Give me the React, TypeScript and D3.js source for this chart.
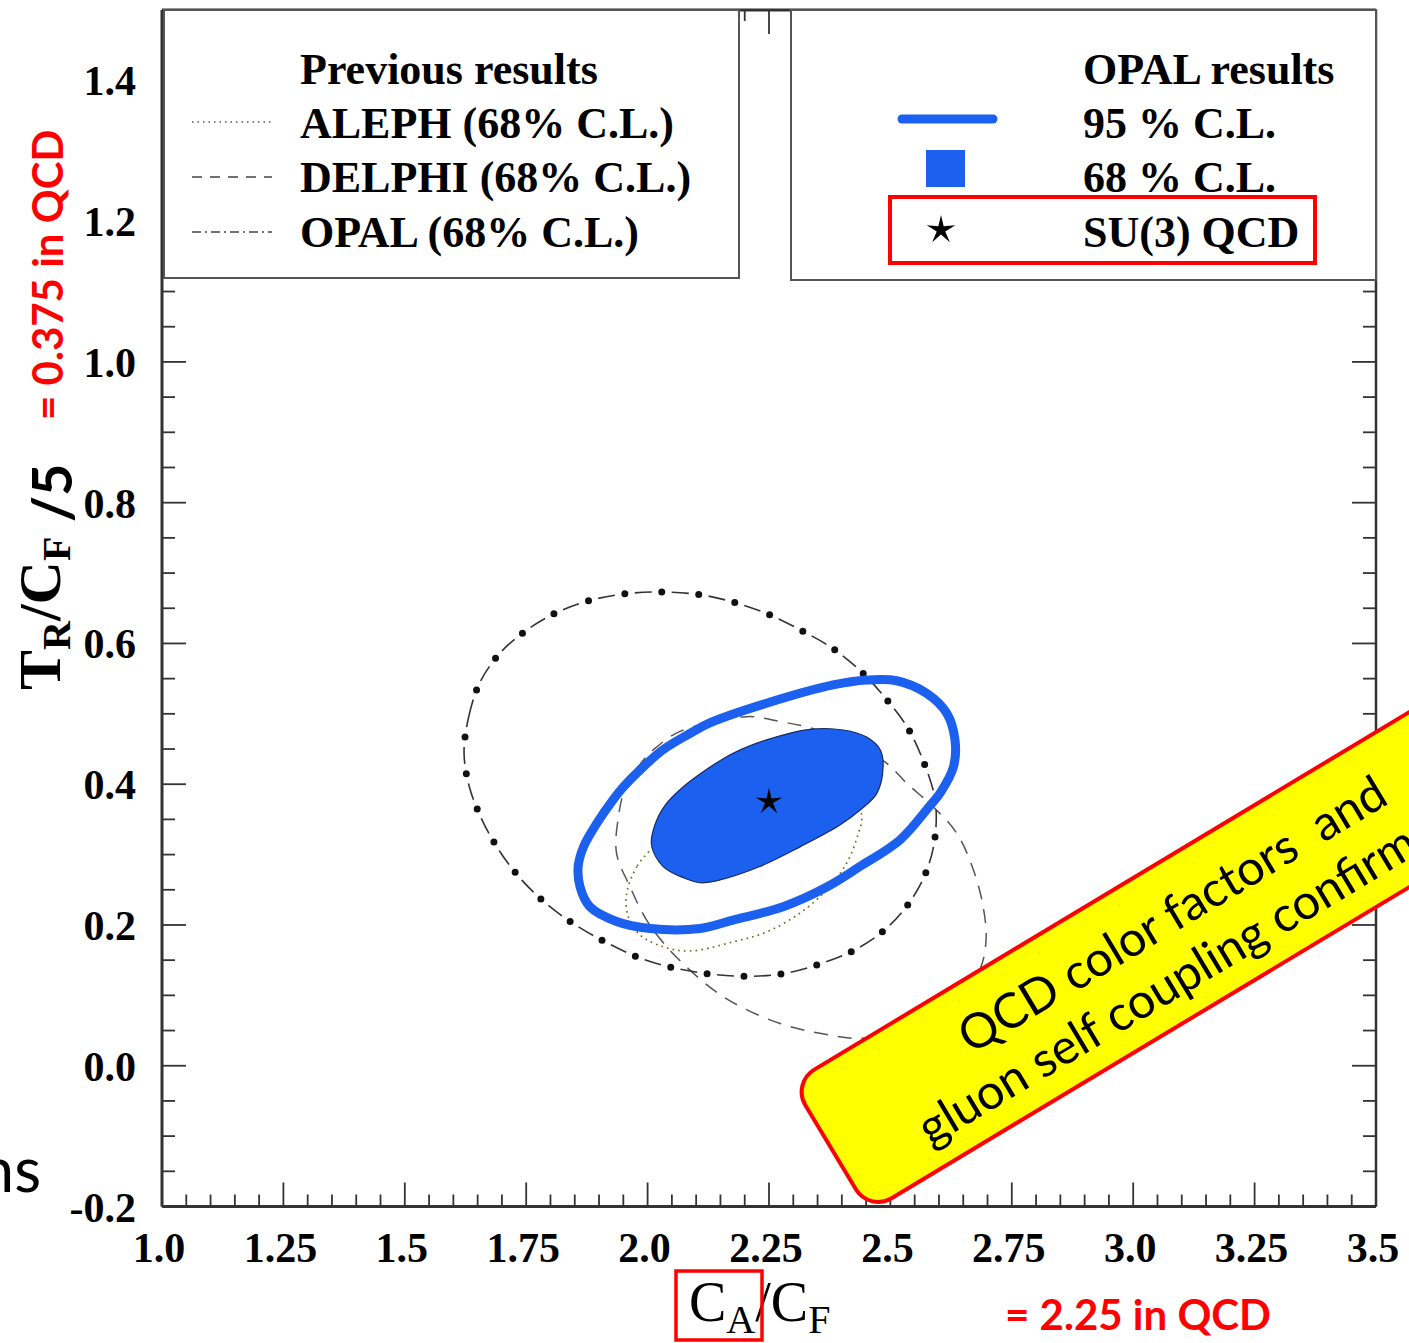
import React from "react";
import * as d3 from "d3";

type Pt = [number, number];

const xTickValues = [1.0, 1.25, 1.5, 1.75, 2.0, 2.25, 2.5, 2.75, 3.0, 3.25, 3.5];
const xTickLabels = ["1.0", "1.25", "1.5", "1.75", "2.0", "2.25", "2.5", "2.75", "3.0", "3.25", "3.5"];
const yTickValues = [-0.2, 0.0, 0.2, 0.4, 0.6, 0.8, 1.0, 1.2, 1.4];
const yTickLabels = ["-0.2", "0.0", "0.2", "0.4", "0.6", "0.8", "1.0", "1.2", "1.4"];

const su3Point: Pt = [2.25, 0.375];

// previous OPAL 68% C.L. (dash-dot)
const opalPrev68: Pt[] = [
  [1.622, 0.445], [1.632, 0.497], [1.655, 0.545], [1.697, 0.587], [1.753, 0.62], [1.816, 0.645],
  [1.886, 0.662], [1.96, 0.671], [2.034, 0.673], [2.111, 0.669], [2.18, 0.658], [2.25, 0.641],
  [2.318, 0.618], [2.381, 0.593], [2.44, 0.56], [2.489, 0.523], [2.534, 0.482], [2.566, 0.436],
  [2.592, 0.378], [2.591, 0.32], [2.571, 0.271], [2.534, 0.227], [2.483, 0.19], [2.422, 0.163],
  [2.352, 0.144], [2.281, 0.131], [2.206, 0.127], [2.133, 0.13], [2.061, 0.138], [1.988, 0.152],
  [1.921, 0.173], [1.856, 0.198], [1.797, 0.227], [1.742, 0.263], [1.697, 0.303], [1.66, 0.348],
  [1.633, 0.396],
];

// DELPHI 68% C.L. (dashed)
const delphi68: Pt[] = [
  [1.94, 0.354], [1.953, 0.392], [1.991, 0.434], [2.019, 0.453], [2.067, 0.475], [2.204, 0.496],
  [2.273, 0.489], [2.341, 0.479], [2.427, 0.456], [2.492, 0.43], [2.534, 0.401], [2.588, 0.368],
  [2.637, 0.33], [2.671, 0.278], [2.691, 0.226], [2.697, 0.179], [2.684, 0.136], [2.633, 0.086],
  [2.54, 0.051], [2.437, 0.039], [2.355, 0.046], [2.273, 0.06], [2.197, 0.082], [2.135, 0.108],
  [2.046, 0.164], [1.998, 0.207], [1.964, 0.254], [1.936, 0.302],
];

// ALEPH 68% C.L. (dotted)
const aleph68: Pt[] = [
  [2.005, 0.306], [1.978, 0.283], [1.957, 0.245], [1.96, 0.212], [1.984, 0.186], [2.032, 0.169],
  [2.087, 0.163], [2.176, 0.176], [2.245, 0.19], [2.314, 0.217], [2.369, 0.25], [2.41, 0.288],
  [2.434, 0.33], [2.441, 0.354], [2.417, 0.392], [2.314, 0.413], [2.17, 0.392], [2.067, 0.349],
];

// OPAL 95% C.L. (thick blue contour)
const opal95: Pt[] = [
  [1.857, 0.283], [1.868, 0.311], [1.895, 0.344], [1.929, 0.378], [1.95, 0.396], [1.984, 0.42],
  [2.032, 0.449], [2.087, 0.472], [2.128, 0.487], [2.245, 0.515], [2.382, 0.541], [2.451, 0.548],
  [2.513, 0.547], [2.575, 0.529], [2.616, 0.501], [2.633, 0.463], [2.63, 0.425], [2.602, 0.387],
  [2.582, 0.37], [2.52, 0.321], [2.437, 0.283], [2.369, 0.254], [2.279, 0.226], [2.176, 0.207],
  [2.108, 0.195], [2.005, 0.195], [1.936, 0.205], [1.881, 0.226], [1.861, 0.254],
];

// OPAL 68% C.L. (filled)
const opal68: Pt[] = [
  [2.008, 0.314], [2.015, 0.342], [2.036, 0.37], [2.073, 0.396], [2.128, 0.424], [2.176, 0.444],
  [2.245, 0.463], [2.334, 0.478], [2.403, 0.477], [2.451, 0.467], [2.479, 0.449], [2.485, 0.425],
  [2.472, 0.387], [2.437, 0.363], [2.396, 0.342], [2.314, 0.311], [2.231, 0.283], [2.149, 0.264],
  [2.108, 0.26], [2.074, 0.267], [2.032, 0.283],
];

const prevLegendTitle = "Previous results";
const prevLegendLabels = ["ALEPH (68% C.L.)", "DELPHI (68% C.L.)", "OPAL (68% C.L.)"];
const opalLegendTitle = "OPAL results";
const opalLegendLabels = ["95 % C.L.", "68 % C.L.", "SU(3) QCD"];
const bannerLines = ["QCD color factors\u00a0\u00a0and", "gluon self coupling confirmed"];
const yNote = "= 0.375 in QCD";
const xNote = "= 2.25 in QCD";
const stray = "ns";

const SERIF = "'Liberation Serif', 'Times New Roman', serif";
const SANS = "Lato, 'Open Sans', sans-serif";
const BLUE = "#1c60f0";

function starPath(cx: number, cy: number, R: number, r: number) {
  const pts: string[] = [];
  for (let i = 0; i < 10; i++) {
    const a = -Math.PI / 2 + (i * Math.PI) / 5;
    const rad = i % 2 === 0 ? R : r;
    pts.push(`${cx + rad * Math.cos(a)},${cy + rad * Math.sin(a)}`);
  }
  return "M" + pts.join("L") + "Z";
}

export default function App() {
  const W = 1409;
  const H = 1343;
  const x = d3.scaleLinear().domain([1, 3.5]).range([162, 1376]);
  const y = d3.scaleLinear().domain([-0.2, 1.5]).range([1206.5, 10]);
  const closed = d3
    .line<Pt>()
    .x((d) => x(d[0]))
    .y((d) => y(d[1]))
    .curve(d3.curveCatmullRomClosed.alpha(0.5));

  const x0 = x(1), x1 = x(3.5), yb = y(-0.2), yt = y(1.5);
  const xMinor = d3.range(0, 51).map((i) => ({ v: 1 + i * 0.05, major: i % 5 === 0 }));
  const yMinor = d3.range(0, 35).map((i) => ({ v: -0.2 + i * 0.05, major: i % 4 === 0 }));

  const prevRowY = [138, 192, 247];
  const sampleY = [122, 177, 232];

  return (
    <svg
      width={W}
      height={H}
      viewBox={`0 0 ${W} ${H}`}
      style={{ position: "absolute", left: 0, top: 0, background: "#fff" }}
    >
      <rect x={0} y={0} width={W} height={H} fill="#fff" />

      {/* contours */}
      <path d={closed(delphi68) || ""} fill="none" stroke="#555" strokeWidth={1.5} strokeDasharray="14 10" />
      <path d={closed(aleph68) || ""} fill="none" stroke="#6e6a1e" strokeWidth={1.7} strokeDasharray="1.6 4.2" />
      <path d={closed(opalPrev68) || ""} fill="none" stroke="#333" strokeWidth={1.6} strokeDasharray="17 20" />
      <path
        d={closed(opalPrev68) || ""}
        fill="none"
        stroke="#111"
        strokeWidth={7}
        strokeLinecap="round"
        strokeDasharray="0 37"
        strokeDashoffset={-27}
      />
      <path d={closed(opal68) || ""} fill={BLUE} stroke="#1a2a60" strokeWidth={1.2} />
      <path d={closed(opal95) || ""} fill="none" stroke={BLUE} strokeWidth={9} strokeLinejoin="round" />
      <path d={starPath(x(su3Point[0]), y(su3Point[1]), 14, 4.2)} fill="#000" />

      {/* axes */}
      <g stroke="#333">
        <line x1={x0} y1={yb} x2={x1} y2={yb} strokeWidth={3} />
        <line x1={x0} y1={yt} x2={x0} y2={yb} strokeWidth={3} />
        <line x1={x1} y1={yt} x2={x1} y2={yb} strokeWidth={2.5} />
        <line x1={x0} y1={yt} x2={x1} y2={yt} strokeWidth={3} />
        {xMinor.map((t, i) => (
          <g key={"xt" + i} strokeWidth={1.8}>
            <line x1={x(t.v)} x2={x(t.v)} y1={yb} y2={yb - (t.major ? 24 : 12)} />
            <line x1={x(t.v)} x2={x(t.v)} y1={yt} y2={yt + (t.major ? 24 : 11)} />
          </g>
        ))}
        {yMinor.map((t, i) => (
          <g key={"yt" + i} strokeWidth={1.8}>
            <line x1={x0} x2={x0 + (t.major ? 24 : 13)} y1={y(t.v)} y2={y(t.v)} />
            <line x1={x1} x2={x1 - (t.major ? 24 : 13)} y1={y(t.v)} y2={y(t.v)} />
          </g>
        ))}
      </g>

      {/* tick labels */}
      <g fontFamily={SERIF} fontWeight="bold" fontSize={42} fill="#000">
        {xTickValues.map((v, i) => (
          <text key={"xl" + i} x={x(v) - 3} y={1262} textAnchor="middle">
            {xTickLabels[i]}
          </text>
        ))}
        {yTickValues.map((v, i) => (
          <text key={"yl" + i} x={136} y={y(v) + 15} textAnchor="end">
            {yTickLabels[i]}
          </text>
        ))}
      </g>

      {/* legend boxes */}
      <rect x={164} y={10} width={575} height={268} fill="#fff" stroke="#555" strokeWidth={2} />
      <rect x={791} y={10} width={585} height={270} fill="#fff" stroke="#555" strokeWidth={2} />

      <g fontFamily={SERIF} fontWeight="bold" fontSize={44} fill="#000">
        <text x={300} y={84}>{prevLegendTitle}</text>
        {prevLegendLabels.map((l, i) => (
          <text key={"pl" + i} x={300} y={prevRowY[i]}>{l}</text>
        ))}
        <text x={1083} y={84}>{opalLegendTitle}</text>
        {opalLegendLabels.map((l, i) => (
          <text key={"ol" + i} x={1083} y={prevRowY[i]}>{l}</text>
        ))}
      </g>
      <line x1={192} x2={272} y1={sampleY[0]} y2={sampleY[0]} stroke="#555" strokeWidth={1.5} strokeDasharray="1.5 4" />
      <line x1={192} x2={272} y1={sampleY[1]} y2={sampleY[1]} stroke="#444" strokeWidth={1.5} strokeDasharray="10 8" />
      <line x1={192} x2={272} y1={sampleY[2]} y2={sampleY[2]} stroke="#444" strokeWidth={1.5} strokeDasharray="9 4 2 4" />
      <line x1={902} x2={993} y1={119} y2={119} stroke={BLUE} strokeWidth={9} strokeLinecap="round" />
      <rect x={926} y={150} width={39} height={37} fill={BLUE} />
      <path d={starPath(941, 230, 15, 4.5)} fill="#000" />
      <rect x={890} y={197} width={425} height={66} fill="none" stroke="#ff0000" strokeWidth={4} />

      {/* axis titles */}
      <text fontFamily={SERIF} fill="#000" x={689} y={1321}>
        <tspan fontSize={56}>C</tspan>
        <tspan fontSize={40} dy={12}>A</tspan>
        <tspan fontSize={56} dy={-12}>/C</tspan>
        <tspan fontSize={40} dy={12}>F</tspan>
      </text>
      <rect x={676} y={1271} width={86} height={69} fill="none" stroke="#ff0000" strokeWidth={3.5} />

      <text fontFamily={SERIF} fontWeight="bold" fill="#000" transform="translate(60,690) rotate(-90)">
        <tspan fontSize={60}>T</tspan>
        <tspan fontSize={40} dy={10}>R</tspan>
        <tspan fontSize={60} dy={-10}>/C</tspan>
        <tspan fontSize={40} dy={10}>F</tspan>
      </text>
      <text fontFamily={SANS} fontWeight="bold" fontSize={56} fill="#000" transform="translate(72,522) rotate(-90)">
        /5
      </text>

      <text fontFamily={SANS} fontWeight="bold" fontSize={42} fill="#ff0000" transform="translate(63,420) rotate(-90)">
        {yNote}
      </text>
      <text fontFamily={SANS} fontWeight="bold" fontSize={42} fill="#ff0000" x={1005} y={1330}>
        {xNote}
      </text>
      <text fontFamily={SANS} fontSize={62} fill="#000" x={41} y={1192} textAnchor="end">
        {stray}
      </text>

      {/* banner */}
      <g transform="translate(792,1083) rotate(-31)">
        <rect x={0} y={0} width={900} height={150} rx={26} fill="#ffff00" stroke="#ff0000" strokeWidth={4} />
        <g fontFamily={SANS} fontSize={48.5} fill="#000">
          <text x={168} y={68}>{bannerLines[0]}</text>
          <text x={86} y={126}>{bannerLines[1]}</text>
        </g>
      </g>
    </svg>
  );
}
